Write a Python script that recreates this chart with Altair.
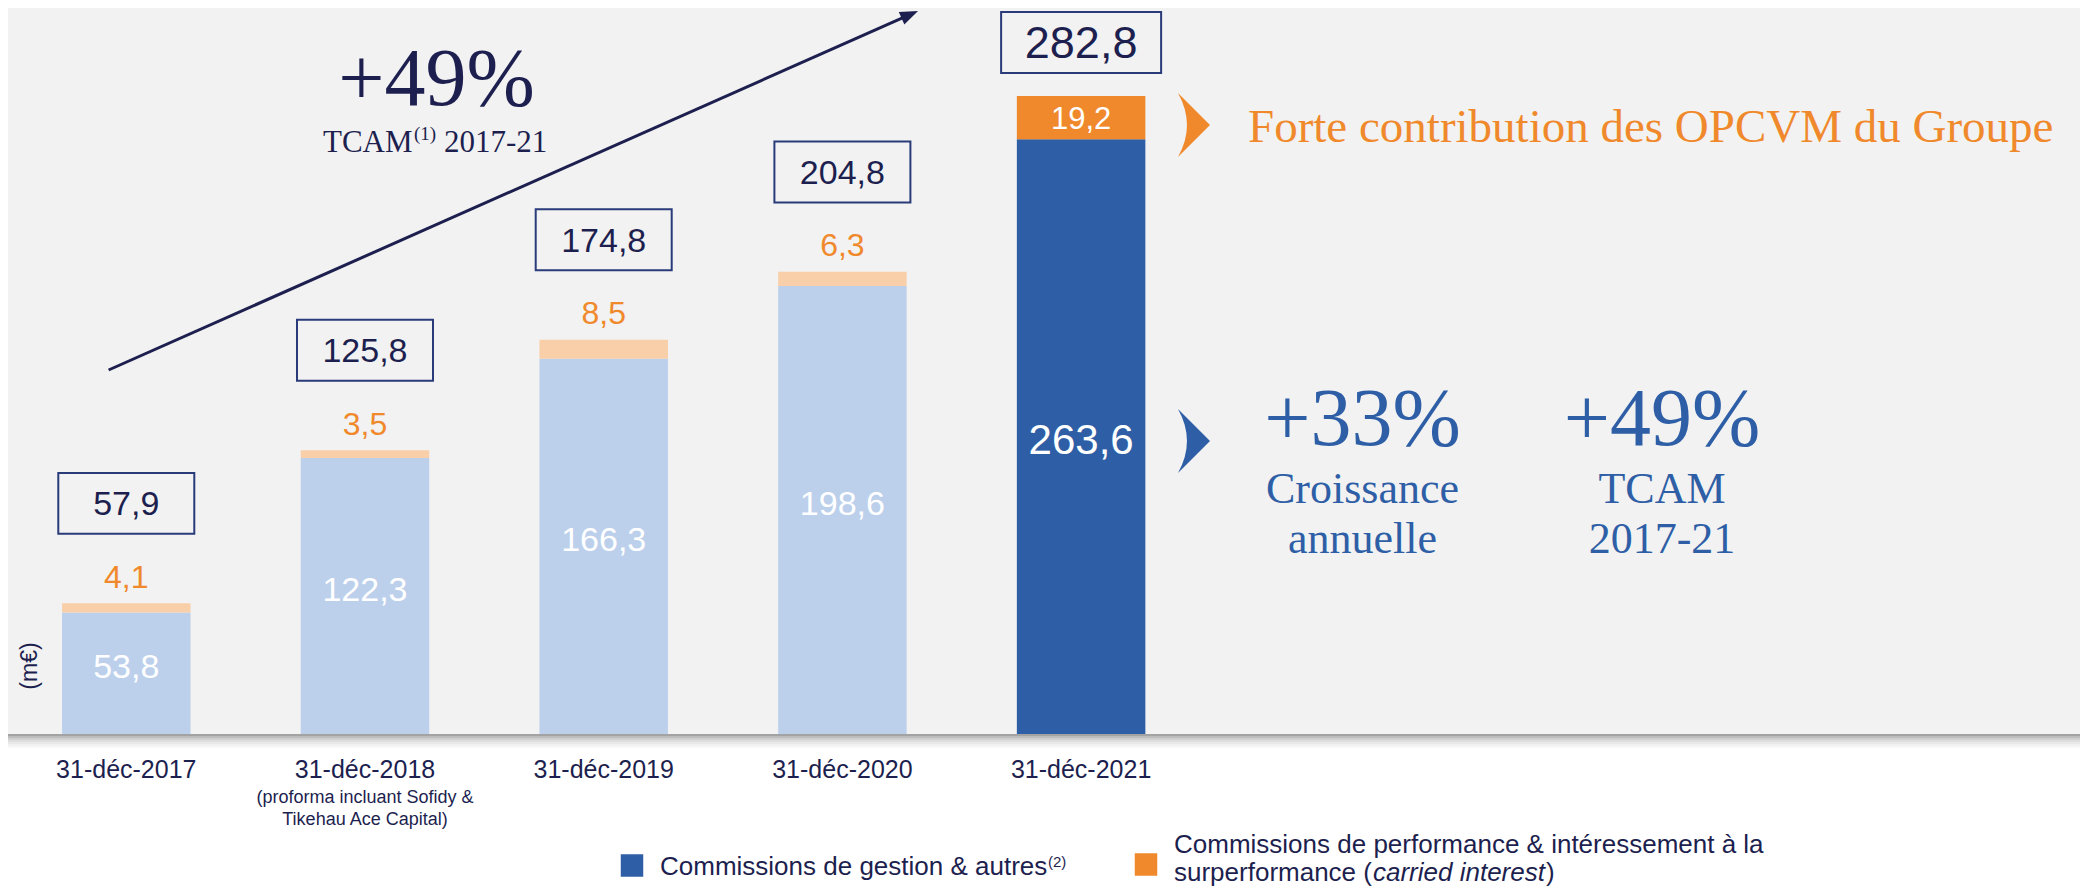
import altair as alt
import pandas as pd

# ---------------- data ----------------
dates = ["31-déc-2017", "31-déc-2018", "31-déc-2019", "31-déc-2020", "31-déc-2021"]
gestion = [53.8, 122.3, 166.3, 198.6, 263.6]
performance = [4.1, 3.5, 8.5, 6.3, 19.2]
totals = [57.9, 125.8, 174.8, 204.8, 282.8]
highlight = [False, False, False, False, True]

note_date = "31-déc-2018"
note_lines = ["(proforma incluant Sofidy &", "Tikehau Ace Capital)"]

legend_gestion = "Commissions de gestion & autres"
legend_gestion_sup = "(2)"
legend_perf_line1 = "Commissions de performance & intéressement à la"
legend_perf_line2 = ["surperformance (", "carried interest", ")"]

cagr_big = "+49%"
cagr_label = ["TCAM", "(1)", "2017-21"]
right_title = "Forte contribution des OPCVM du Groupe"
kpi_values = ["+33%", "+49%"]
kpi_line1 = ["Croissance", "TCAM"]
kpi_line2 = ["annuelle", "2017-21"]
unit_label = "(m€)"

# ---------------- styles ----------------
NAVY = "#1d1f4f"
BOXC = "#2a3b7a"
BLUE = "#2e5fa6"
ORANGE = "#f0892b"
LBLUE = "#bcd0ec"
LORANGE = "#f8cfa8"
BG = "#f2f2f2"
SANS = "Liberation Sans"
SERIF = "Liberation Serif"

W, H, PAD_B = 2072, 726, 153


def fr(v):
    return f"{v:.1f}".replace(".", ",")


summary = pd.DataFrame({"date": dates, "gestion": gestion, "perf": performance,
                        "total": totals, "hl": highlight})
summary["g_lab"] = [fr(v) for v in gestion]
summary["p_lab"] = [fr(v) for v in performance]
summary["t_lab"] = [fr(v) for v in totals]
summary["g_mid"] = summary["gestion"] / 2
summary["p_mid"] = summary["gestion"] + summary["perf"] / 2

rows = []
for d, g, p, h in zip(dates, gestion, performance, highlight):
    suf = "_hl" if h else ""
    rows.append({"date": d, "part": "gestion" + suf, "value": g, "k": 0})
    rows.append({"date": d, "part": "perf" + suf, "value": p, "k": 1})
bars_df = pd.DataFrame(rows)

xscale = alt.Scale(domain=dates, range=[0, 1191.4], paddingInner=0.4617, paddingOuter=0.2264)
yscale = alt.Scale(domain=[0, 321.8], nice=False, zero=True)
X = alt.X("date:N", scale=xscale, axis=None)


def one(text):
    return pd.DataFrame({"t": [text]})


layers = []

# white area under the baseline
layers.append(alt.Chart(one("")).mark_rect(color="white").encode(
    x=alt.value(0), x2=alt.value(W), y=alt.value(727), y2=alt.value(H + PAD_B)))

# stacked bars
layers.append(alt.Chart(bars_df).mark_bar().encode(
    x=X,
    y=alt.Y("value:Q", stack="zero", scale=yscale, axis=None),
    color=alt.Color("part:N", legend=None, scale=alt.Scale(
        domain=["gestion", "perf", "gestion_hl", "perf_hl"],
        range=[LBLUE, LORANGE, BLUE, ORANGE])),
    order=alt.Order("k:Q"),
))

# baseline with soft shadow
for yy, col in [(727, "#a3a3a3"), (729, "#bdbdbd"), (731, "#d0d0d0"), (733, "#dedede"),
                (735, "#e9e9e9"), (737, "#f1f1f1"), (739, "#f8f8f8")]:
    layers.append(alt.Chart(one("")).mark_rule(color=col, strokeWidth=2).encode(
        x=alt.value(0), x2=alt.value(W), y=alt.value(yy)))

base = alt.Chart(summary)
not_hl = "!datum.hl"
is_hl = "datum.hl"

# inner labels (management fees)
layers.append(base.transform_filter(not_hl).mark_text(
    color="white", font=SANS, fontSize=34, baseline="alphabetic", dy=5).encode(
    x=X, y=alt.Y("g_mid:Q", scale=yscale, axis=None), text="g_lab:N"))
layers.append(base.transform_filter(is_hl).mark_text(
    color="white", font=SANS, fontSize=42, baseline="alphabetic", dy=17).encode(
    x=X, y=alt.Y("g_mid:Q", scale=yscale, axis=None), text="g_lab:N"))

# performance fee labels
layers.append(base.transform_filter(not_hl).mark_text(
    color=ORANGE, font=SANS, fontSize=32, baseline="alphabetic", dy=-15.5).encode(
    x=X, y=alt.Y("total:Q", scale=yscale, axis=None), text="p_lab:N"))
layers.append(base.transform_filter(is_hl).mark_text(
    color="white", font=SANS, fontSize=31, baseline="alphabetic", dy=11).encode(
    x=X, y=alt.Y("p_mid:Q", scale=yscale, axis=None), text="p_lab:N"))

# total boxes
BOX_PATH = "M -1 -0.4485 L 1 -0.4485 L 1 0.4485 L -1 0.4485 Z"
BOX_PATH_HL = "M -1 -0.381 L 1 -0.381 L 1 0.381 L -1 0.381 Z"
layers.append(base.transform_filter(not_hl).mark_point(
    shape=BOX_PATH, size=136 ** 2, filled=False, color=BOXC, strokeWidth=2,
    opacity=1, yOffset=-100).encode(
    x=X, y=alt.Y("total:Q", scale=yscale, axis=None)))
layers.append(base.transform_filter(is_hl).mark_point(
    shape=BOX_PATH_HL, size=160 ** 2, filled=False, color=BOXC, strokeWidth=2,
    opacity=1, yOffset=-53.5).encode(
    x=X, y=alt.Y("total:Q", scale=yscale, axis=None)))
layers.append(base.transform_filter(not_hl).mark_text(
    color=NAVY, font=SANS, fontSize=34, baseline="alphabetic", dy=-88).encode(
    x=X, y=alt.Y("total:Q", scale=yscale, axis=None), text="t_lab:N"))
layers.append(base.transform_filter(is_hl).mark_text(
    color=NAVY, font=SANS, fontSize=45, baseline="alphabetic", dy=-37.5).encode(
    x=X, y=alt.Y("total:Q", scale=yscale, axis=None), text="t_lab:N"))

# x labels
layers.append(base.mark_text(color=NAVY, font=SANS, fontSize=25, baseline="alphabetic").encode(
    x=X, y=alt.value(770), text="date:N"))
for i, line in enumerate(note_lines):
    layers.append(alt.Chart(pd.DataFrame({"date": [note_date], "t": [line]})).mark_text(
        color=NAVY, font=SANS, fontSize=18, baseline="alphabetic").encode(
        x=X, y=alt.value(795 + 22 * i), text="t:N"))

# unit label
layers.append(alt.Chart(one(unit_label)).mark_text(
    color=NAVY, font=SANS, fontSize=23, angle=270, baseline="middle", align="center").encode(
    x=alt.value(22), y=alt.value(658), text="t:N"))

# growth arrow
layers.append(alt.Chart(one("")).mark_rule(color=NAVY, strokeWidth=3).encode(
    x=alt.value(100.6), y=alt.value(362), x2=alt.value(901.8), y2=alt.value(6.6)))
layers.append(alt.Chart(one("")).mark_point(
    shape="M 1 0 L -1 -0.75 L -1 0.75 Z", size=324, filled=True, color=NAVY,
    opacity=1, angle=336).encode(x=alt.value(901.8), y=alt.value(6.6)))

# CAGR annotation (top left)
layers.append(alt.Chart(one(cagr_big)).mark_text(
    color=NAVY, font=SERIF, fontSize=82, baseline="alphabetic", align="center").encode(
    x=alt.value(428.5), y=alt.value(97), text="t:N"))
layers.append(alt.Chart(one(cagr_label[0])).mark_text(
    color=NAVY, font=SERIF, fontSize=31, baseline="alphabetic", align="left").encode(
    x=alt.value(315), y=alt.value(144), text="t:N"))
layers.append(alt.Chart(one(cagr_label[1])).mark_text(
    color=NAVY, font=SERIF, fontSize=19, baseline="alphabetic", align="left").encode(
    x=alt.value(406), y=alt.value(132), text="t:N"))
layers.append(alt.Chart(one(cagr_label[2])).mark_text(
    color=NAVY, font=SERIF, fontSize=31, baseline="alphabetic", align="left").encode(
    x=alt.value(436), y=alt.value(144), text="t:N"))

# chevrons
CHEVRON = "M -0.5 -1 L 0.5 0 L -0.5 1 Q 0.06 0 -0.5 -1 Z"
layers.append(alt.Chart(one("")).mark_point(
    shape=CHEVRON, size=64 ** 2, filled=True, color=ORANGE, opacity=1).encode(
    x=alt.value(1186), y=alt.value(117)))
layers.append(alt.Chart(one("")).mark_point(
    shape=CHEVRON, size=64 ** 2, filled=True, color=BLUE, opacity=1).encode(
    x=alt.value(1186), y=alt.value(433)))

layers.append(alt.Chart(one(right_title)).mark_text(
    color=ORANGE, font=SERIF, fontSize=47, baseline="alphabetic", align="left").encode(
    x=alt.value(1240), y=alt.value(134), text="t:N"))

for cx, v, l1, l2 in zip([1354.5, 1654], kpi_values, kpi_line1, kpi_line2):
    layers.append(alt.Chart(one(v)).mark_text(
        color=BLUE, font=SERIF, fontSize=82, baseline="alphabetic", align="center").encode(
        x=alt.value(cx), y=alt.value(437), text="t:N"))
    layers.append(alt.Chart(one(l1)).mark_text(
        color=BLUE, font=SERIF, fontSize=44, baseline="alphabetic", align="center").encode(
        x=alt.value(cx), y=alt.value(495), text="t:N"))
    layers.append(alt.Chart(one(l2)).mark_text(
        color=BLUE, font=SERIF, fontSize=44, baseline="alphabetic", align="center").encode(
        x=alt.value(cx), y=alt.value(545), text="t:N"))

# legend
layers.append(alt.Chart(one("")).mark_point(
    shape="square", size=506, filled=True, color=BLUE, opacity=1).encode(
    x=alt.value(624), y=alt.value(857.5)))
layers.append(alt.Chart(one(legend_gestion)).mark_text(
    color=NAVY, font=SANS, fontSize=26, baseline="alphabetic", align="left").encode(
    x=alt.value(652), y=alt.value(867), text="t:N"))
layers.append(alt.Chart(one(legend_gestion_sup)).mark_text(
    color=NAVY, font=SANS, fontSize=15, baseline="alphabetic", align="left").encode(
    x=alt.value(1040), y=alt.value(859), text="t:N"))

layers.append(alt.Chart(one("")).mark_point(
    shape="square", size=506, filled=True, color=ORANGE, opacity=1).encode(
    x=alt.value(1138), y=alt.value(856.5)))
layers.append(alt.Chart(one(legend_perf_line1)).mark_text(
    color=NAVY, font=SANS, fontSize=26, baseline="alphabetic", align="left").encode(
    x=alt.value(1166), y=alt.value(845), text="t:N"))
line2_x = [1166, 1365, 1538]
for xx, part, style in zip(line2_x, legend_perf_line2, ["normal", "italic", "normal"]):
    layers.append(alt.Chart(one(part)).mark_text(
        color=NAVY, font=SANS, fontSize=26, fontStyle=style, baseline="alphabetic",
        align="left").encode(x=alt.value(xx), y=alt.value(873), text="t:N"))

chart = alt.layer(*layers).properties(
    width=W, height=H, background=BG,
    padding={"left": 0, "top": 0, "right": 0, "bottom": PAD_B},
    autosize=alt.AutoSizeParams(type="none"),
).configure_view(stroke=None)

chart.save("out.html", embed_options={"renderer": "svg", "actions": False})
